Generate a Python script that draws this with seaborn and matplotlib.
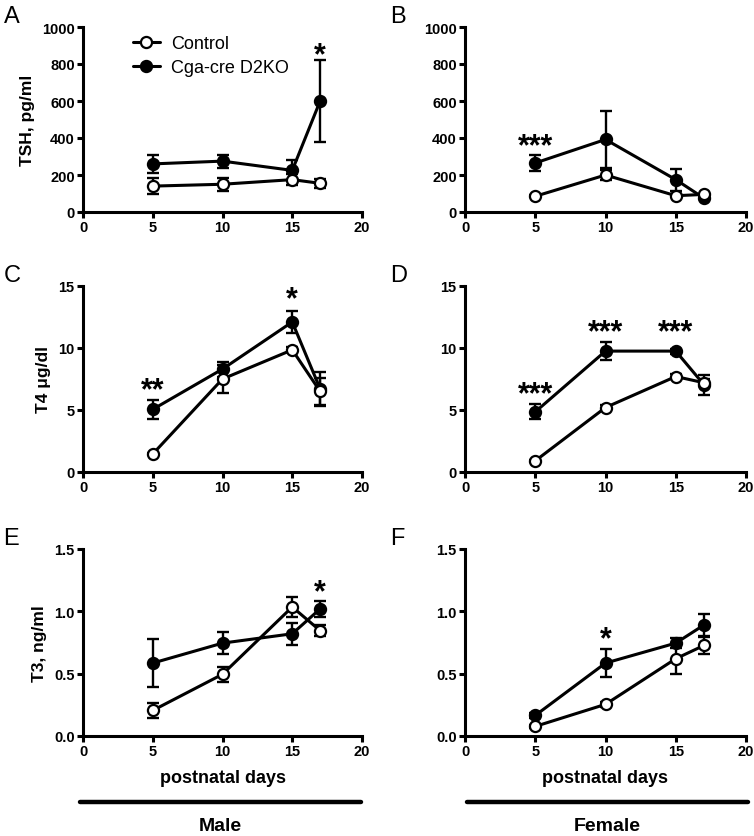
import numpy as np
import pandas as pd
import matplotlib
matplotlib.use("Agg")
import matplotlib.pyplot as plt
import seaborn as sns

sns.set_theme(style="ticks")
plt.rcParams['font.family'] = ['Liberation Sans', 'DejaVu Sans']
plt.rcParams['text.color'] = 'black'
plt.rcParams['axes.labelcolor'] = 'black'
plt.rcParams['xtick.color'] = 'black'
plt.rcParams['ytick.color'] = 'black'

days = [5, 10, 15, 17]
groups = ["Control", "Cga-cre D2KO"]

# Panel A: TSH male
tsh_m_ctrl = [140, 150, 175, 155]
tsh_m_ctrl_err = [42, 35, 30, 25]
tsh_m_ko = [260, 275, 225, 600]
tsh_m_ko_err = [48, 35, 55, 220]
# Panel B: TSH female
tsh_f_ctrl = [85, 200, 88, 95]
tsh_f_ctrl_err = [5, 25, 8, 5]
tsh_f_ko = [265, 392, 175, 75]
tsh_f_ko_err = [45, 155, 60, 5]
# Panel C: T4 male
t4_m_ctrl = [1.45, 7.5, 9.85, 6.5]
t4_m_ctrl_err = [0.1, 1.1, 0.2, 1.1]
t4_m_ko = [5.05, 8.3, 12.1, 6.7]
t4_m_ko_err = [0.75, 0.6, 0.9, 1.4]
# Panel D: T4 female
t4_f_ctrl = [0.9, 5.2, 7.7, 7.2]
t4_f_ctrl_err = [0.1, 0.2, 0.2, 0.3]
t4_f_ko = [4.85, 9.75, 9.75, 7.05]
t4_f_ko_err = [0.6, 0.7, 0.2, 0.8]
# Panel E: T3 male
t3_m_ctrl = [0.205, 0.495, 1.035, 0.845]
t3_m_ctrl_err = [0.06, 0.06, 0.08, 0.045]
t3_m_ko = [0.585, 0.745, 0.82, 1.02]
t3_m_ko_err = [0.19, 0.09, 0.09, 0.065]
# Panel F: T3 female
t3_f_ctrl = [0.077, 0.254, 0.62, 0.726]
t3_f_ctrl_err = [0.01, 0.02, 0.125, 0.07]
t3_f_ko = [0.165, 0.585, 0.745, 0.89]
t3_f_ko_err = [0.02, 0.11, 0.04, 0.09]

panels = [
    ("A", tsh_m_ctrl, tsh_m_ctrl_err, tsh_m_ko, tsh_m_ko_err, "TSH, pg/ml", [0, 200, 400, 600, 800, 1000], ["0", "200", "400", "600", "800", "1000"],
     [(17, 850, "*")]),
    ("B", tsh_f_ctrl, tsh_f_ctrl_err, tsh_f_ko, tsh_f_ko_err, None, [0, 200, 400, 600, 800, 1000], ["0", "200", "400", "600", "800", "1000"],
     [(5, 358, "***")]),
    ("C", t4_m_ctrl, t4_m_ctrl_err, t4_m_ko, t4_m_ko_err, "T4 \u03bcg/dl", [0, 5, 10, 15], ["0", "5", "10", "15"],
     [(5, 6.6, "**"), (15, 13.9, "*")]),
    ("D", t4_f_ctrl, t4_f_ctrl_err, t4_f_ko, t4_f_ko_err, None, [0, 5, 10, 15], ["0", "5", "10", "15"],
     [(5, 6.3, "***"), (10, 11.3, "***"), (15, 11.3, "***")]),
    ("E", t3_m_ctrl, t3_m_ctrl_err, t3_m_ko, t3_m_ko_err, "T3, ng/ml", [0, 0.5, 1.0, 1.5], ["0.0", "0.5", "1.0", "1.5"],
     [(17, 1.155, "*")]),
    ("F", t3_f_ctrl, t3_f_ctrl_err, t3_f_ko, t3_f_ko_err, None, [0, 0.5, 1.0, 1.5], ["0.0", "0.5", "1.0", "1.5"],
     [(10, 0.78, "*")]),
]

W, H = 754, 837
fig = plt.figure(figsize=(W / 100, H / 100), dpi=100)

def rect(x0, x1, ytop, ybot):
    return [x0 / W, 1 - ybot / H, (x1 - x0) / W, (ybot - ytop) / H]

rows = [(28, 213), (287, 473), (550, 737)]
cols = [(83, 362), (465, 746)]

lw = 2.2
ms = 8
for i, (letter, c, ce, k, ke, ylabel, yt, ytl, stars) in enumerate(panels):
    r, cc = divmod(i, 2)
    ax = fig.add_axes(rect(cols[cc][0], cols[cc][1], rows[r][0], rows[r][1]))
    df = pd.DataFrame({
        "day": days * 2,
        "value": list(c) + list(k),
        "err": list(ce) + list(ke),
        "group": [groups[0]] * 4 + [groups[1]] * 4,
    })
    for g, mfc, z in [(groups[1], "black", 3), (groups[0], "white", 4)]:
        sub = df[df.group == g]
        ax.errorbar(sub["day"], sub["value"], yerr=sub["err"], fmt="none",
                    ecolor="black", elinewidth=1.7, capsize=4, capthick=1.7, zorder=z - 0.5)
        sns.lineplot(data=sub, x="day", y="value", ax=ax, color="black", linewidth=lw,
                     marker="o", markersize=ms, markerfacecolor=mfc, markeredgecolor="black",
                     markeredgewidth=1.6, zorder=z, legend=False)
    ax.set_xlim(0, 20)
    ax.set_ylim(yt[0], yt[-1])
    ax.set_xticks([0, 5, 10, 15, 20])
    ax.set_xticklabels(["0", "5", "10", "15", "20"], fontweight="bold", fontsize=10.5)
    ax.set_yticks(yt)
    ax.set_yticklabels(ytl, fontweight="bold", fontsize=10.5)
    for s in ["top", "right"]:
        ax.spines[s].set_visible(False)
    for s in ["left", "bottom"]:
        ax.spines[s].set_linewidth(lw)
        ax.spines[s].set_color("black")
    ax.tick_params(axis="both", direction="out", length=4, width=lw, colors="black", pad=2)
    ax.set_xlabel("postnatal days" if r == 2 else "", fontweight="bold", fontsize=13, labelpad=8)
    ax.set_ylabel(ylabel if ylabel else "", fontweight="bold", fontsize=12.5, labelpad=5)
    for (sx, sy, st) in stars:
        ax.text(sx, sy, st, ha="center", va="center", fontsize=22, fontweight="bold")
    ax.text(-0.285 if cc == 0 else -0.265, 1.06, letter, transform=ax.transAxes, fontsize=17,
            ha="left", va="center")
    if i == 0:
        ax.legend(handles=[
            plt.Line2D([], [], color="black", lw=lw, marker="o", markersize=ms, markerfacecolor="white", markeredgewidth=1.6),
            plt.Line2D([], [], color="black", lw=lw, marker="o", markersize=ms, markerfacecolor="black", markeredgewidth=1.6)],
            labels=groups, loc="upper left", bbox_to_anchor=(0.12, 1.045), frameon=False,
            fontsize=13, handlelength=1.5, handletextpad=0.6, labelspacing=0.4)

# Sex bars
for (x0, x1), lab in [((80, 361), "Male"), ((467, 748), "Female")]:
    fig.add_artist(plt.Line2D([x0 / W, x1 / W], [1 - 803 / H, 1 - 803 / H], color="black", lw=3.2))
    fig.text((x0 + x1) / 2 / W, 1 - 831 / H, lab, ha="center", va="baseline", fontsize=14, fontweight="bold")

fig.savefig("out.png", dpi=100, facecolor="white")
